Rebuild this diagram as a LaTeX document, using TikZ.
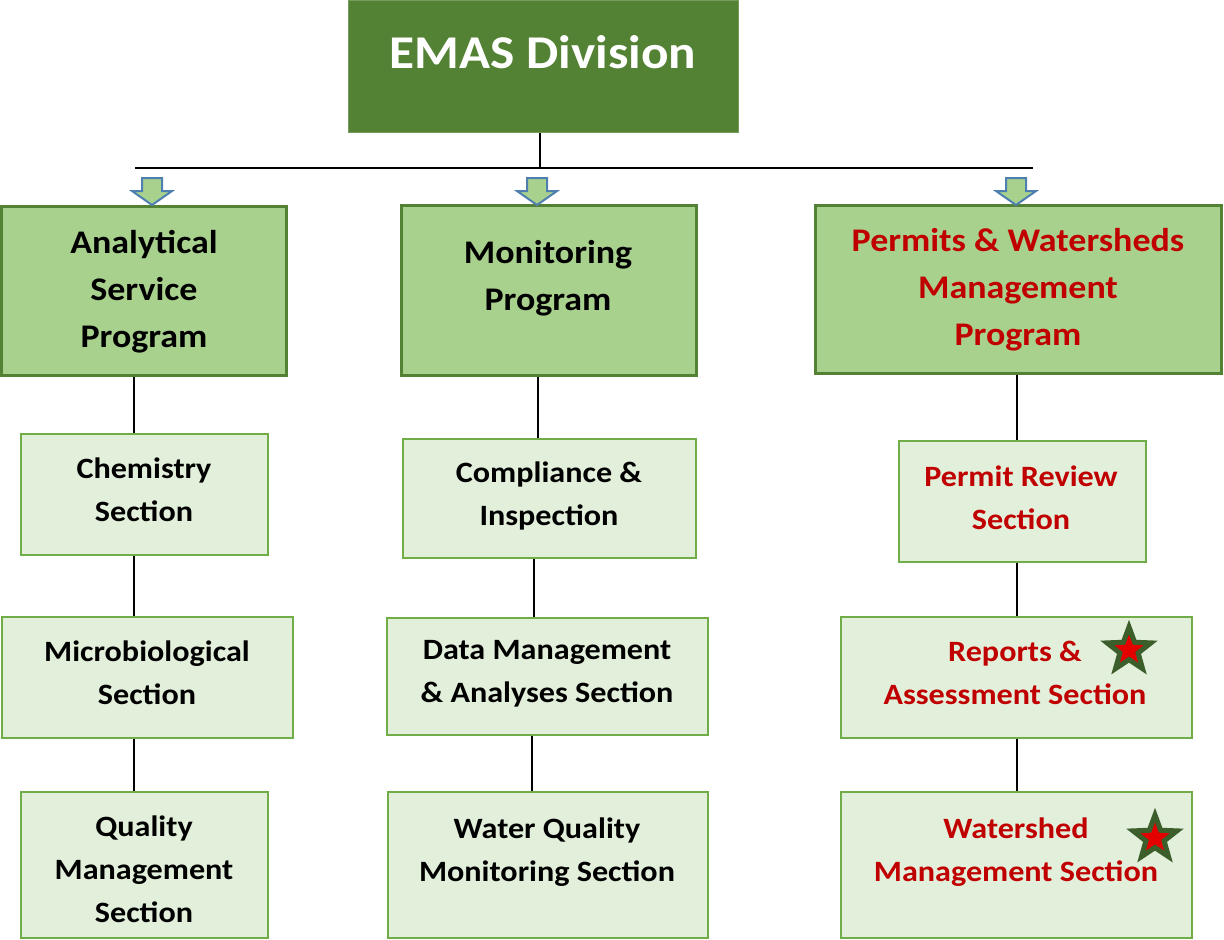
\documentclass[tikz,border=0pt]{standalone}
\usepackage{fontspec}
\setmainfont[FakeStretch=1.09]{Carlito}
\usetikzlibrary{shapes.geometric}
\definecolor{emasgreen}{HTML}{548235}
\definecolor{progfill}{HTML}{A9D18E}
\definecolor{progborder}{HTML}{548235}
\definecolor{secfill}{HTML}{E2EFDA}
\definecolor{secborder}{HTML}{70AD47}
\definecolor{redtxt}{HTML}{C00000}
\definecolor{arrowblue}{HTML}{4F7FB0}
\definecolor{stargreen}{HTML}{3B5E2B}
\tikzset{
  emasbox/.style={draw=emasgreen!80!white, line width=1pt, fill=emasgreen, inner sep=0pt},
  progbox/.style={draw=progborder, line width=3pt, fill=progfill, inner sep=0pt},
  secbox/.style={draw=secborder, line width=2pt, fill=secfill, inner sep=0pt},
  progtext/.style={align=center, font=\bfseries\fontsize{33}{47}\selectfont, inner sep=0pt},
  sectext/.style={align=center, font=\bfseries\fontsize{29.5}{43}\selectfont, inner sep=0pt},
  conn/.style={line width=2.5pt, black},
  arrowst/.style={draw=arrowblue, line width=2pt, fill=progfill, line join=miter},
  redstar/.style={star, star points=5, star point ratio=2.4, minimum size=46pt, fill=red!90!black, draw=stargreen, line width=5pt, inner sep=0pt}
}
\newcommand\blockarrow[1]{\draw[arrowst] (#1-10,178) -- (#1+10,178) -- (#1+10,191) -- (#1+20,191) -- (#1,205) -- (#1-20,191) -- (#1-10,191) -- cycle;}
\begin{document}
\begin{tikzpicture}[x=1pt,y=-1pt]
\useasboundingbox (0,0) rectangle (1224,940);
% top box
\node[emasbox, minimum width=390pt, minimum height=132pt] (emas) at (543,66.5) {};
\node[text=white, font=\bfseries\fontsize{47}{56}\selectfont, inner sep=0pt] (emast) at (543,52) {EMAS Division};
% program boxes
\node[progbox, minimum width=285pt, minimum height=169pt] (p1) at (144,290.5) {};
\node[progbox, minimum width=295pt, minimum height=170pt] (p2) at (548.5,290) {};
\node[progbox, minimum width=406pt, minimum height=168pt] (p3) at (1018,289) {};
% section boxes
\node[secbox, minimum width=247pt, minimum height=121pt] (s11) at (144.5,494.5) {};
\node[secbox, minimum width=291pt, minimum height=121pt] (s12) at (147,677.5) {};
\node[secbox, minimum width=247pt, minimum height=146pt] (s13) at (144.5,865) {};
\node[secbox, minimum width=293pt, minimum height=119pt] (s21) at (549.5,498.5) {};
\node[secbox, minimum width=321pt, minimum height=117pt] (s22) at (547.5,676.5) {};
\node[secbox, minimum width=320pt, minimum height=146pt] (s23) at (548,865) {};
\node[secbox, minimum width=247pt, minimum height=121pt] (s31) at (1022.5,501.5) {};
\node[secbox, minimum width=351pt, minimum height=121pt] (s32) at (1016.5,677.5) {};
\node[secbox, minimum width=351pt, minimum height=146pt] (s33) at (1016.5,865) {};
% texts
\node[progtext] (t1) at (144,292) {Analytical\\Service\\Program};
\node[progtext] (t2) at (548,278) {Monitoring\\Program};
\node[progtext, text=redtxt] (t3) at (1018,290) {Permits \& Watersheds\\Management\\Program};
\node[sectext] (u11) at (144,490) {Chemistry\\Section};
\node[sectext] (u12) at (147,673) {Microbiological\\Section};
\node[sectext] (u13) at (144,869) {Quality\\Management\\Section};
\node[sectext] (u21) at (549,496) {Compliance \&\\Inspection};
\node[sectext] (u22) at (547,674) {Data Management\\\& Analyses Section};
\node[sectext] (u23) at (547,852) {Water Quality\\Monitoring Section};
\node[sectext, text=redtxt] (u31) at (1021,498) {Permit Review\\Section};
\node[sectext, text=redtxt] (u32) at (1015,673) {Reports \&\\Assessment Section};
\node[sectext, text=redtxt] (u33) at (1016,852) {Watershed\\Management Section};
% stars
\node[redstar] (st1) at (1129,650) {};
\node[redstar] (st2) at (1155,838) {};
% trunk
\coordinate (trunk) at (540,0);
\coordinate (hl) at (135,168);
\coordinate (hr) at (1033,168);
\draw[conn] (emas.south -| trunk) -- (trunk |- hl);
\draw[conn] (hl) -- (hr);
\blockarrow{152}
\blockarrow{537}
\blockarrow{1016}
% column connectors
\coordinate (c1) at (134,0);
\coordinate (c2a) at (538,0);
\coordinate (c2b) at (534,0);
\coordinate (c2c) at (532,0);
\coordinate (c3) at (1017,0);
\draw[conn] (p1.south -| c1) -- (s11.north -| c1);
\draw[conn] (s11.south -| c1) -- (s12.north -| c1);
\draw[conn] (s12.south -| c1) -- (s13.north -| c1);
\draw[conn] (p2.south -| c2a) -- (s21.north -| c2a);
\draw[conn] (s21.south -| c2b) -- (s22.north -| c2b);
\draw[conn] (s22.south -| c2c) -- (s23.north -| c2c);
\draw[conn] (p3.south -| c3) -- (s31.north -| c3);
\draw[conn] (s31.south -| c3) -- (s32.north -| c3);
\draw[conn] (s32.south -| c3) -- (s33.north -| c3);
\end{tikzpicture}
\end{document}
